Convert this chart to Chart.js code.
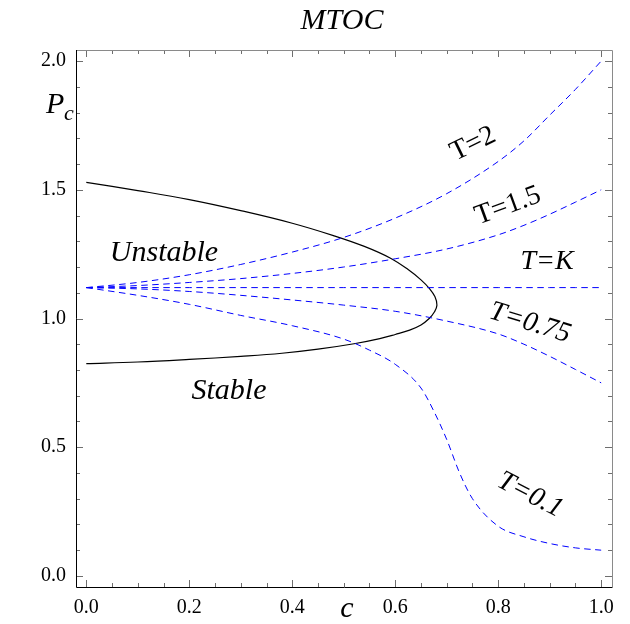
<!DOCTYPE html>
<html>
<head>
<meta charset="utf-8">
<script src="https://cdn.jsdelivr.net/npm/chart.js@4.4.1/dist/chart.umd.min.js"></script>
<style>
  html, body { margin: 0; padding: 0; background: #fff; }
  #wrap { width: 630px; height: 624px; }
</style>
</head>
<body>
<div id="wrap"><canvas id="chart" width="630" height="624"></canvas></div>
<script>
// c values shared by the smooth T curves
var cGrid = [0, 0.1, 0.2, 0.3, 0.4, 0.5, 0.6, 0.7, 0.8, 0.85, 0.9, 0.95, 1.0];
var pT2 = [1.12, 1.14, 1.17, 1.21, 1.258, 1.315, 1.39, 1.485, 1.61, 1.69, 1.79, 1.89, 2.0];
var pT15 = [1.12, 1.128, 1.14, 1.155, 1.175, 1.20, 1.232, 1.27, 1.325, 1.362, 1.405, 1.452, 1.50];
var pTK = [1.12, 1.12, 1.12, 1.12, 1.12, 1.12, 1.12, 1.12, 1.12, 1.12, 1.12, 1.12, 1.12];
var pT075 = [1.12, 1.115, 1.105, 1.09, 1.072, 1.052, 1.028, 0.99, 0.94, 0.90, 0.853, 0.802, 0.75];

// T=0.1 drops steeply, so it gets its own grid
var cT01 = [0, 0.1, 0.2, 0.3, 0.4, 0.5, 0.55, 0.6, 0.65, 0.675, 0.7, 0.725, 0.75, 0.8, 0.85, 0.9, 0.95, 1.0];
var pT01 = [1.12, 1.09, 1.055, 1.012, 0.972, 0.92, 0.877, 0.822, 0.73, 0.64, 0.53, 0.40, 0.30, 0.193, 0.152, 0.126, 0.109, 0.10];

// stability boundary, traced from the upper left round the tip to the lower left
var cBound = [0, 0.1, 0.2, 0.3, 0.4, 0.48, 0.54, 0.59, 0.625, 0.65, 0.667, 0.677, 0.681,
  0.676, 0.666, 0.65, 0.628, 0.6, 0.57, 0.52, 0.45, 0.38, 0.3, 0.2, 0.1, 0];
var pBound = [1.529, 1.497, 1.462, 1.419, 1.37, 1.322, 1.28, 1.235, 1.19, 1.15, 1.115, 1.085, 1.052,
  1.025, 1.0, 0.975, 0.955, 0.938, 0.922, 0.902, 0.881, 0.865, 0.853, 0.841, 0.831, 0.825];

var xMajor = [0, 0.2, 0.4, 0.6, 0.8, 1.0];
var xMinor = [0.05, 0.1, 0.15, 0.25, 0.3, 0.35, 0.45, 0.5, 0.55, 0.65, 0.7, 0.75, 0.85, 0.9, 0.95];
var yMajor = [0, 0.5, 1.0, 1.5, 2.0];
var yMinor = [0.1, 0.2, 0.3, 0.4, 0.6, 0.7, 0.8, 0.9, 1.1, 1.2, 1.3, 1.4, 1.6, 1.7, 1.8, 1.9];

function pts(xs, ys) {
  return xs.map(function (x, i) { return { x: x, y: ys[i] }; });
}

var SERIF = '"Liberation Serif", "Times New Roman", serif';

function blueSet(label, xs, ys) {
  return {
    label: label,
    data: pts(xs, ys),
    borderColor: '#0000ff',
    borderWidth: 1,
    borderDash: [6.5, 4.5],
    pointRadius: 0,
    showLine: true,
    cubicInterpolationMode: 'monotone'
  };
}

// inward frame ticks on all four sides, plus the frame itself
var frameTicks = {
  id: 'frameTicks',
  afterDatasetsDraw: function (chart) {
    var ctx = chart.ctx, a = chart.chartArea;
    var xs = chart.scales.x, ys = chart.scales.y;
    ctx.save();
    ctx.lineWidth = 1;
    ctx.strokeStyle = '#6e6e6e';
    ctx.beginPath();
    function xt(v, len) {
      var px = Math.round(xs.getPixelForValue(v)) + 0.5;
      ctx.moveTo(px, a.bottom); ctx.lineTo(px, a.bottom - len);
      ctx.moveTo(px, a.top); ctx.lineTo(px, a.top + len);
    }
    function yt(v, len) {
      var py = Math.round(ys.getPixelForValue(v)) + 0.5;
      ctx.moveTo(a.left, py); ctx.lineTo(a.left + len, py);
      ctx.moveTo(a.right, py); ctx.lineTo(a.right - len, py);
    }
    xMajor.forEach(function (v) { xt(v, 7); });
    xMinor.forEach(function (v) { xt(v, 4); });
    yMajor.forEach(function (v) { yt(v, 7); });
    yMinor.forEach(function (v) { yt(v, 4); });
    ctx.stroke();

    ctx.strokeStyle = '#8a8a8a';
    ctx.beginPath();
    ctx.moveTo(a.left, a.top + 0.5); ctx.lineTo(a.right + 0.5, a.top + 0.5);
    ctx.lineTo(a.right + 0.5, a.bottom);
    ctx.stroke();
    ctx.strokeStyle = '#000';
    ctx.beginPath();
    ctx.moveTo(a.left + 0.5, a.top); ctx.lineTo(a.left + 0.5, a.bottom + 0.5);
    ctx.lineTo(a.right + 0.5, a.bottom + 0.5);
    ctx.stroke();
    ctx.restore();
  }
};

// region labels, curve labels and axis names
var notes = {
  id: 'notes',
  afterDraw: function (chart) {
    var ctx = chart.ctx;
    ctx.save();
    ctx.fillStyle = '#000';
    ctx.textAlign = 'center';
    ctx.textBaseline = 'middle';
    function put(text, x, y, size, italic, deg) {
      ctx.save();
      ctx.translate(x, y);
      ctx.rotate((deg || 0) * Math.PI / 180);
      ctx.font = (italic ? 'italic ' : '') + size + 'px ' + SERIF;
      ctx.fillText(text, 0, 0);
      ctx.restore();
    }
    put('MTOC', 342, 21, 30, true, 0);
    put('Unstable', 164, 253, 30, true, 0);
    put('Stable', 229, 391, 30, true, 0);
    put('T=2', 473, 144, 28, false, -26);
    put('T=1.5', 508, 206, 28, false, -20);
    put('T=K', 547, 262, 28, true, 0);
    put('T=0.75', 530, 323, 28, true, 17);
    put('T=0.1', 530, 495, 28, true, 27);
    put('c', 347, 609, 30, true, 0);
    ctx.textAlign = 'left';
    ctx.textBaseline = 'alphabetic';
    ctx.font = 'italic 30px ' + SERIF;
    ctx.fillText('P', 46, 113);
    ctx.font = 'italic 22px ' + SERIF;
    ctx.fillText('c', 64, 120);
    ctx.restore();
  }
};

new Chart(document.getElementById('chart'), {
  type: 'scatter',
  data: {
    datasets: [
      blueSet('T=2', cGrid, pT2),
      blueSet('T=1.5', cGrid, pT15),
      blueSet('T=K', cGrid, pTK),
      blueSet('T=0.75', cGrid, pT075),
      blueSet('T=0.1', cT01, pT01),
      {
        label: 'boundary',
        data: pts(cBound, pBound),
        borderColor: '#000',
        borderWidth: 1.2,
        pointRadius: 0,
        showLine: true,
        tension: 0.4
      }
    ]
  },
  options: {
    responsive: false,
    animation: false,
    layout: { padding: { top: 50, right: 18, left: 0, bottom: 0 } },
    plugins: { legend: { display: false }, tooltip: { enabled: false }, title: { display: false } },
    scales: {
      x: {
        type: 'linear',
        min: -0.02, max: 1.021,
        afterFit: function (s) { s.height = 37; },
        afterBuildTicks: function (s) { s.ticks = xMajor.map(function (v) { return { value: v }; }); },
        grid: { display: false, drawTicks: false },
        border: { display: false },
        ticks: {
          padding: 9,
          color: '#000',
          font: { family: 'Liberation Serif', size: 20 },
          callback: function (v) { return v.toFixed(1); }
        }
      },
      y: {
        type: 'linear',
        min: -0.043, max: 2.043,
        afterFit: function (s) { s.width = 76; },
        afterBuildTicks: function (s) { s.ticks = yMajor.map(function (v) { return { value: v }; }); },
        grid: { display: false, drawTicks: false },
        border: { display: false },
        ticks: {
          padding: 10,
          color: '#000',
          font: { family: 'Liberation Serif', size: 20 },
          callback: function (v) { return v.toFixed(1); }
        }
      }
    }
  },
  plugins: [frameTicks, notes]
});
</script>
</body>
</html>
